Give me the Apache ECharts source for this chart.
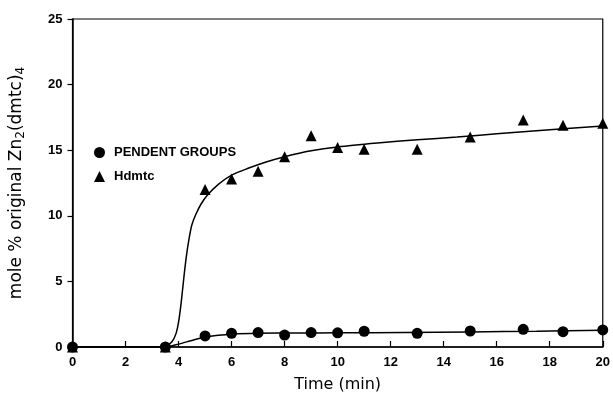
<!DOCTYPE html>
<html>
<head>
<meta charset="utf-8">
<script src="https://cdn.jsdelivr.net/npm/echarts@6/dist/echarts.min.js"></script>
<style>html,body{margin:0;padding:0;background:#fff}#c{width:613px;height:400px}</style>
</head>
<body>
<div id="c"></div>
<script>
// Measured data
var timeP = [0, 3.5, 5, 6, 7, 8, 9, 10, 11, 13, 15, 17, 18.5, 20];
var pendent = [0, 0, 0.84, 1.04, 1.1, 0.91, 1.1, 1.08, 1.2, 1.04, 1.22, 1.35, 1.17, 1.3];
var timeH = [0, 3.5, 5, 6, 7, 8, 9, 10, 11, 13, 15, 17, 18.5, 20];
var hdmtc = [0, 0, 12.0, 12.8, 13.4, 14.5, 16.1, 15.2, 15.07, 15.07, 16.0, 17.3, 16.9, 17.05];
// Fitted curves
var fitHx = [0, 3, 3.5, 3.75, 3.9, 4.0, 4.1, 4.2, 4.3, 4.4, 4.5, 4.65, 4.85, 5.1, 5.5, 6.0, 6.6, 7.3, 8, 9, 10, 11.5, 13, 14.5, 16, 18, 20];
var fitHy = [0, 0, 0.05, 0.4, 1.0, 1.9, 3.4, 5.3, 7.0, 8.3, 9.3, 10.1, 10.9, 11.6, 12.4, 13.1, 13.6, 14.1, 14.5, 14.95, 15.25, 15.55, 15.8, 16.0, 16.25, 16.55, 16.85];
var fitPx = [0, 3.5, 4, 4.5, 5, 5.5, 6, 7, 8.5, 10, 12.5, 15, 17.5, 20];
var fitPy = [0, 0, 0.22, 0.5, 0.76, 0.9, 0.98, 1.04, 1.07, 1.08, 1.11, 1.15, 1.2, 1.28];
var xTicks = [0, 2, 4, 6, 8, 10, 12, 14, 16, 18, 20];
var yTicks = [0, 5, 10, 15, 20, 25];
var seriesNames = ['PENDENT GROUPS', 'Hdmtc'];

function zip(a, b) { return a.map(function (v, i) { return [v, b[i]]; }); }

var chart = echarts.init(document.getElementById('c'), null, {renderer: 'canvas'});
var labelFont = {color: '#000', fontFamily: 'Liberation Sans', fontWeight: 'bold', fontSize: 13};
chart.setOption({
  animation: false,
  backgroundColor: '#fff',
  grid: {left: 72, right: 10, top: 19, bottom: 53, show: true, borderColor: '#000', borderWidth: 1.2, backgroundColor: 'transparent'},
  legend: {
    orient: 'vertical', left: 89, top: 141, itemWidth: 11, itemHeight: 11, itemGap: 11,
    data: [{name: seriesNames[0], icon: 'circle'}, {name: seriesNames[1], icon: 'triangle'}],
    itemStyle: {opacity: 1, color: '#000'},
    textStyle: {color: '#000', fontFamily: 'Liberation Sans', fontWeight: 'bold', fontSize: 13, padding: [0, 0, 0, 4]}
  },
  xAxis: {
    type: 'value', min: xTicks[0], max: xTicks[xTicks.length - 1], interval: 2,
    name: 'Time (min)', nameLocation: 'middle', nameGap: 30,
    nameTextStyle: {color: '#000', fontFamily: 'DejaVu Sans', fontSize: 16},
    axisLine: {lineStyle: {color: '#000', width: 1.5}},
    axisTick: {inside: true, length: 6, lineStyle: {color: '#000', width: 1.2}},
    axisLabel: Object.assign({margin: 9}, labelFont),
    splitLine: {show: false}
  },
  yAxis: {
    type: 'value', min: yTicks[0], max: yTicks[yTicks.length - 1], interval: 5,
    name: '{t|mole % original Zn}{s|2}{t|(dmtc)}{s|4}', nameLocation: 'middle', nameGap: 46,
    nameTextStyle: {
      color: '#000',
      rich: {
        t: {fontFamily: 'DejaVu Sans', fontSize: 17, color: '#000'},
        s: {fontFamily: 'DejaVu Sans', fontSize: 12, color: '#000', padding: [8, 0, 0, 0]}
      }
    },
    axisLine: {show: true, lineStyle: {color: '#000', width: 1.5}},
    axisTick: {show: true, inside: false, length: 5, lineStyle: {color: '#000', width: 1.2}},
    axisLabel: Object.assign({margin: 10}, labelFont),
    splitLine: {show: false}
  },
  series: [
    {type: 'line', data: zip(fitHx, fitHy), showSymbol: false, smooth: 0.25,
     lineStyle: {color: '#000', width: 1.5}, silent: true, z: 2},
    {type: 'line', data: zip(fitPx, fitPy), showSymbol: false, smooth: 0.25,
     lineStyle: {color: '#000', width: 1.5}, silent: true, z: 2},
    {name: seriesNames[0], type: 'scatter', data: zip(timeP, pendent), symbol: 'circle', symbolSize: 11,
     itemStyle: {color: '#000', opacity: 1}, z: 3},
    {name: seriesNames[1], type: 'scatter', data: zip(timeH, hdmtc), symbol: 'triangle', symbolSize: 11,
     itemStyle: {color: '#000', opacity: 1}, z: 3}
  ]
});
</script>
</body>
</html>
